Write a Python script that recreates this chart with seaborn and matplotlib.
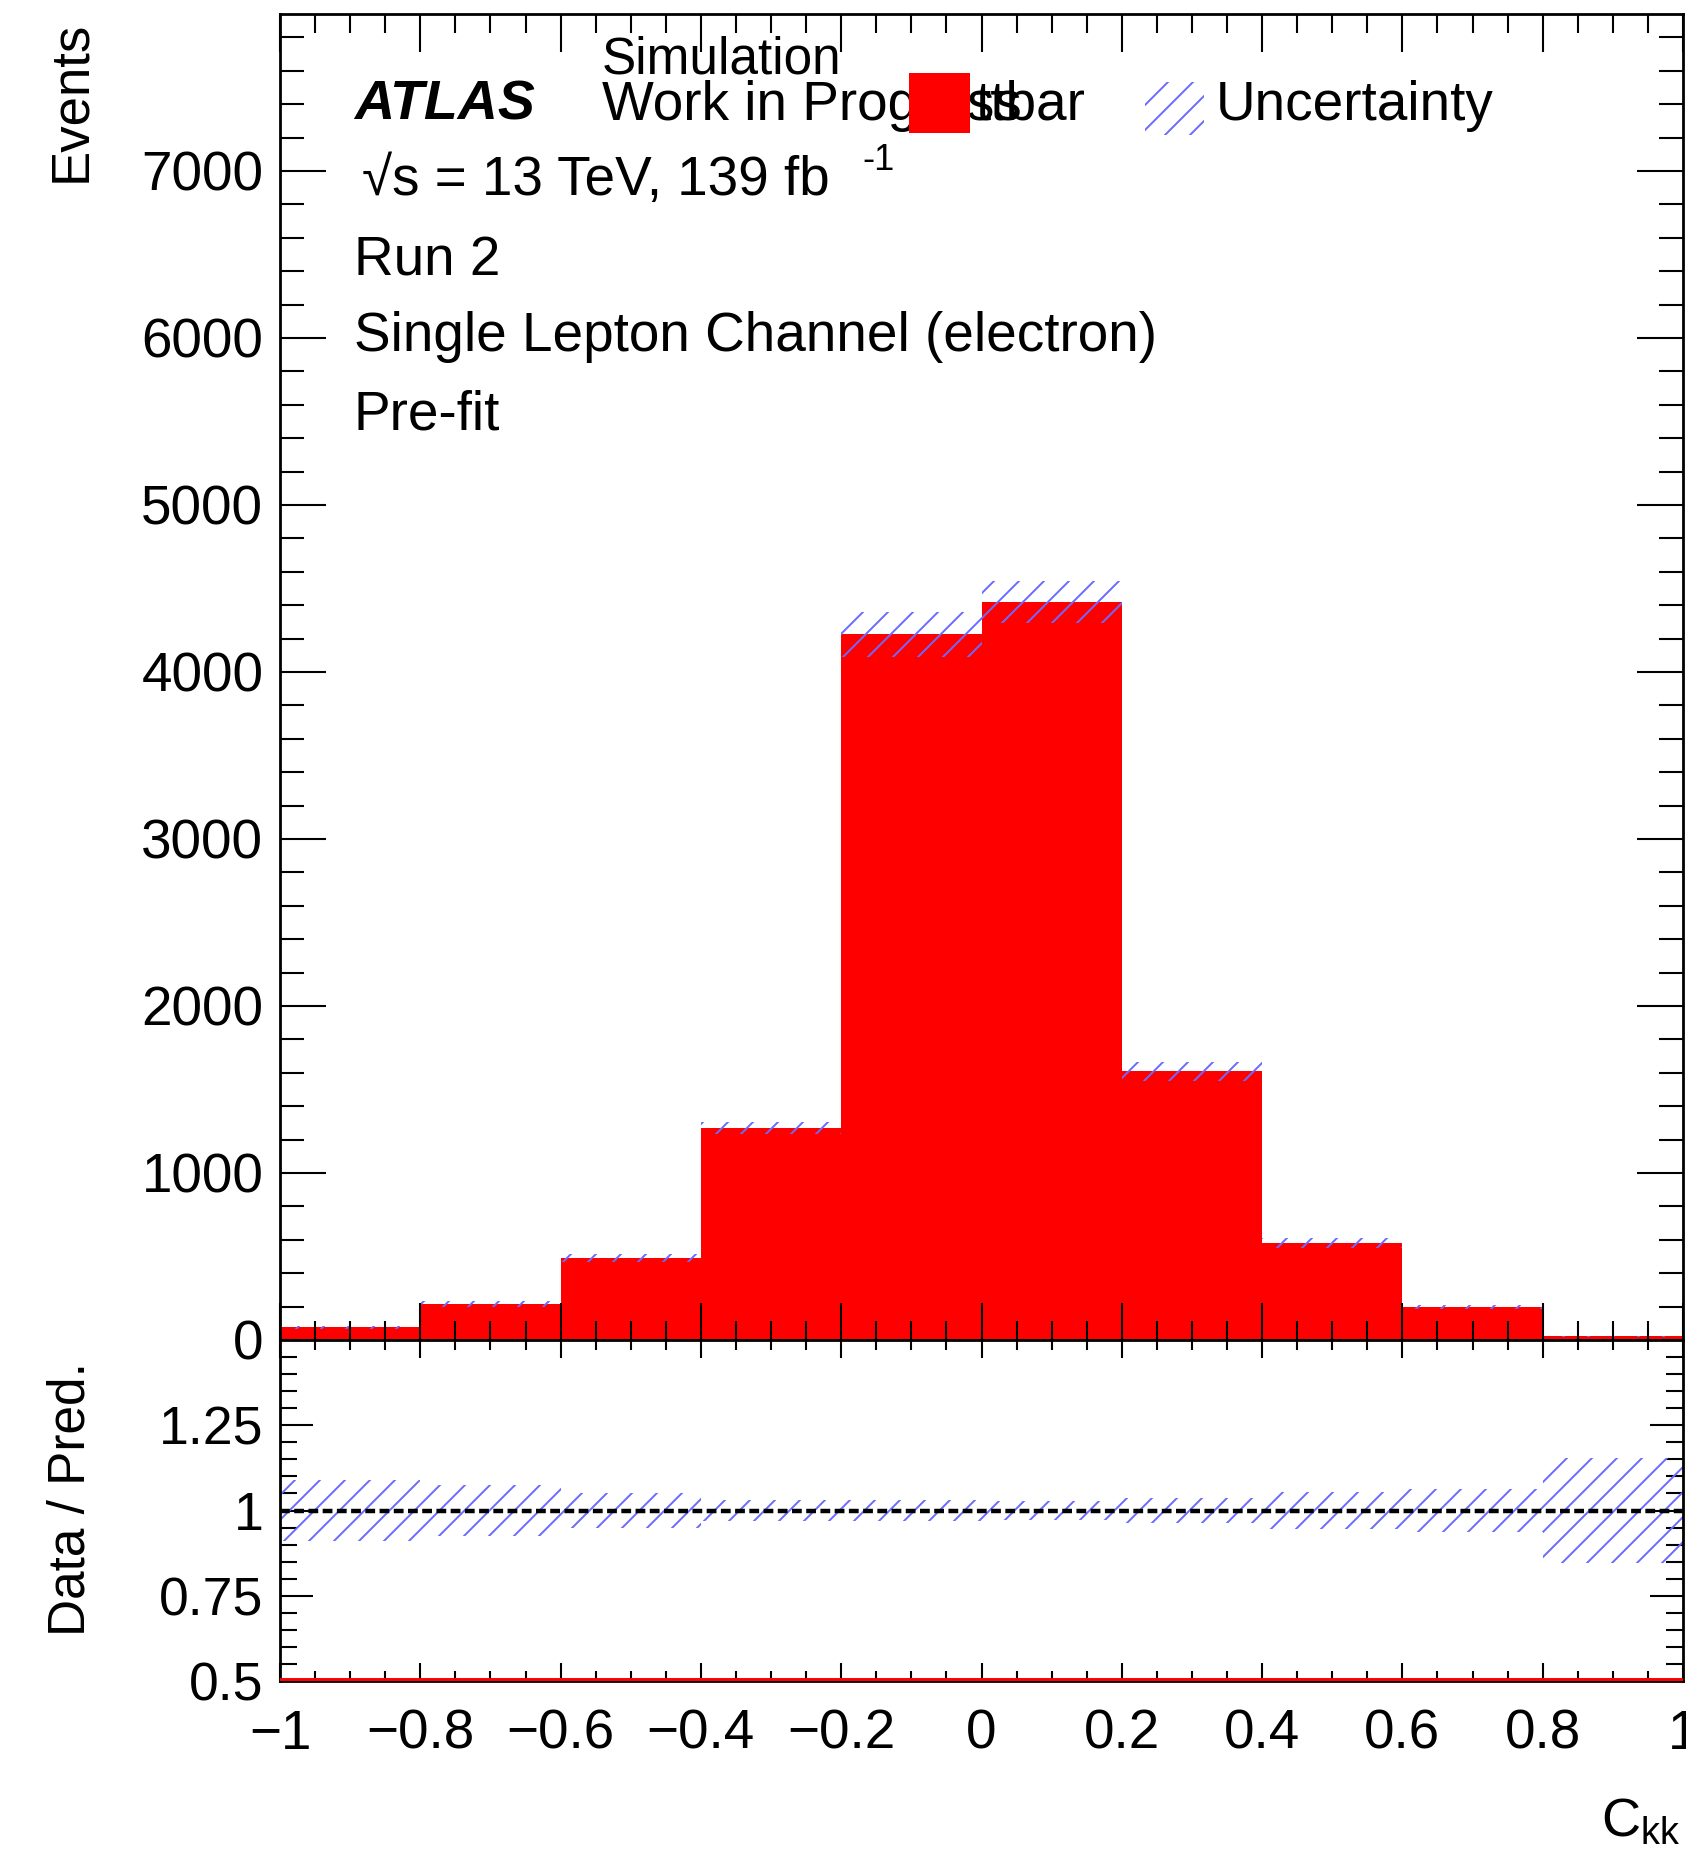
import matplotlib
matplotlib.use("Agg")
import matplotlib.pyplot as plt
from matplotlib.patches import Rectangle
from matplotlib.ticker import MultipleLocator
import numpy as np
import pandas as pd
import seaborn as sns

# ---- data ----
bin_edges = [-1.0, -0.8, -0.6, -0.4, -0.2, 0.0, 0.2, 0.4, 0.6, 0.8, 1.0]
ttbar_events = [75, 215, 490, 1270, 4225, 4420, 1608, 580, 195, 22]
rel_uncertainty = [0.09, 0.075, 0.052, 0.03, 0.032, 0.028, 0.037, 0.055, 0.062, 0.155]
main_yticks = [0, 1000, 2000, 3000, 4000, 5000, 6000, 7000]
ratio_yticks = [0.5, 0.75, 1.0, 1.25]
ratio_yticklabels = ["0.5", "0.75", "1", "1.25"]
xticks = [-1, -0.8, -0.6, -0.4, -0.2, 0, 0.2, 0.4, 0.6, 0.8, 1]
xticklabels = ["\u22121", "\u22120.8", "\u22120.6", "\u22120.4", "\u22120.2", "0", "0.2", "0.4", "0.6", "0.8", "1"]

DPI = 150
P = 100.0 / DPI  # sizes below are given as if at 100 dpi

sns.set_style("ticks")
FONT = ["Liberation Sans", "DejaVu Sans"]
plt.rcParams["font.family"] = FONT
plt.rcParams["text.color"] = "black"
plt.rcParams["axes.labelcolor"] = "black"
plt.rcParams["xtick.color"] = "black"
plt.rcParams["ytick.color"] = "black"
plt.rcParams["axes.edgecolor"] = "black"
plt.rcParams["mathtext.fontset"] = "custom"
plt.rcParams["mathtext.rm"] = "Liberation Sans"
plt.rcParams["mathtext.it"] = "Liberation Sans:italic"
plt.rcParams["hatch.linewidth"] = 1.4 * P
plt.rcParams["xtick.direction"] = "in"
plt.rcParams["ytick.direction"] = "in"
plt.rcParams["xtick.top"] = True
plt.rcParams["ytick.right"] = True

W, H = 1686, 1856
fig = plt.figure(figsize=(W / DPI, H / DPI), dpi=DPI)

def fx(x):
    return x / W

def fy(y):
    return 1 - y / H

left, right = 280, 1683
ax = fig.add_axes([fx(left), fy(1340), (right - left) / W, (1340 - 14) / H])
rax = fig.add_axes([fx(left), fy(1681), (right - left) / W, (1681 - 1340) / H])

edges = np.array(bin_edges)
centers = 0.5 * (edges[:-1] + edges[1:])
widths = np.diff(edges)
vals = np.array(ttbar_events, dtype=float)
rel = np.array(rel_uncertainty)

df = pd.DataFrame({"ckk": centers, "events": vals})

# main histogram
sns.histplot(data=df, x="ckk", weights="events", bins=list(bin_edges), color="#ff0000",
             alpha=1.0, linewidth=0, ax=ax, element="bars", legend=False)
hatch_col = "#6a6aff"
ax.bar(centers, 2 * vals * rel, bottom=vals * (1 - rel), width=widths,
       fill=False, hatch="//", edgecolor=hatch_col, linewidth=0, zorder=3)

ax.set_xlim(-1, 1)
ax.set_ylim(0, 7940)
ax.set_yticks(main_yticks)
ax.set_yticklabels([str(t) for t in main_yticks])
ax.yaxis.set_minor_locator(MultipleLocator(200))
ax.set_xticks(xticks)
ax.xaxis.set_minor_locator(MultipleLocator(0.05))
ax.tick_params(axis="x", labelbottom=False)
ax.tick_params(axis="x", which="major", length=27 * P, width=1.5 * P)
ax.tick_params(axis="x", which="minor", length=14 * P, width=1.5 * P)
ax.tick_params(axis="y", which="major", length=33 * P, width=1.5 * P, labelsize=39.5 * P, pad=12 * P)
ax.tick_params(axis="y", which="minor", length=17 * P, width=1.5 * P)
ax.set_xlabel("")
ax.set_ylabel("")
ax.xaxis.set_zorder(5)
ax.yaxis.set_zorder(5)
for s in ax.spines.values():
    s.set_linewidth(2 * P)
    s.set_color("black")
    s.set_zorder(6)

# ratio panel
ratio_ones = np.ones_like(vals)
rax.bar(centers, 2 * rel, bottom=ratio_ones - rel, width=widths,
        fill=False, hatch="//", edgecolor=hatch_col, linewidth=0, zorder=2)
rax.axhline(1.0, color="black", linestyle=(0, (2.2, 1.0)), linewidth=3.2 * P, zorder=4)
rax.axhline(0.5, color="#ff0000", linewidth=5 * P, zorder=3)
rax.set_xlim(-1, 1)
rax.set_ylim(0.5, 1.5)
rax.set_yticks(ratio_yticks)
rax.set_yticklabels(ratio_yticklabels)
rax.yaxis.set_minor_locator(MultipleLocator(0.05))
rax.set_xticks(xticks)
rax.set_xticklabels(xticklabels)
rax.xaxis.set_minor_locator(MultipleLocator(0.05))
rax.tick_params(axis="x", which="major", length=13 * P, width=1.5 * P, labelsize=39.5 * P, pad=20 * P)
rax.tick_params(axis="x", which="minor", length=7 * P, width=1.5 * P)
rax.tick_params(axis="y", which="major", length=24 * P, width=1.5 * P, labelsize=38.5 * P, pad=12 * P)
rax.tick_params(axis="y", which="minor", length=12 * P, width=1.5 * P)
for s in rax.spines.values():
    s.set_linewidth(2 * P)
    s.set_color("black")

# axis titles
fig.text(fx(71), fy(21), "Events", rotation=90, ha="center", va="top", fontsize=38 * P, family=FONT)
fig.text(fx(71), fy(1362), "Data / Pred.", rotation=90, ha="center", va="top", fontsize=37 * P, family=FONT)
fig.text(fx(1681), fy(1848), r"C$_{\mathrm{kk}}$", ha="right", va="bottom", fontsize=39 * P, family=FONT)

# labels
fs = 39.5 * P
fig.text(fx(354), fy(120), "ATLAS", fontsize=40 * P, fontweight="bold", fontstyle="italic",
         ha="left", va="baseline", family=FONT)
fig.text(fx(602), fy(120), "Work in Progress", fontsize=fs, ha="left", va="baseline", family=FONT)
fig.text(fx(602), fy(73), "Simulation", fontsize=37 * P, ha="left", va="baseline", family=FONT)
fig.text(fx(362), fy(195), "\u221as = 13 TeV, 139 fb", fontsize=fs, ha="left", va="baseline", family=FONT)
fig.text(fx(862), fy(170), "-1", fontsize=26 * P, ha="left", va="baseline", family=FONT)
fig.text(fx(354), fy(275), "Run 2", fontsize=fs, ha="left", va="baseline", family=FONT)
fig.text(fx(354), fy(351), "Single Lepton Channel (electron)", fontsize=fs, ha="left", va="baseline", family=FONT)
fig.text(fx(354), fy(430), "Pre-fit", fontsize=fs, ha="left", va="baseline", family=FONT)

# legend
fig.add_artist(Rectangle((fx(909), fy(133)), (970 - 909) / W, (133 - 73) / H,
                         transform=fig.transFigure, facecolor="#ff0000", edgecolor="none", zorder=6))
fig.text(fx(975), fy(120), "ttbar", fontsize=fs, ha="left", va="baseline", family=FONT, zorder=7)
fig.add_artist(Rectangle((fx(1145), fy(135)), (1204 - 1145) / W, (135 - 82) / H,
                         transform=fig.transFigure, fill=False, hatch="//", edgecolor=hatch_col,
                         linewidth=0, zorder=6))
fig.text(fx(1216), fy(120), "Uncertainty", fontsize=fs, ha="left", va="baseline", family=FONT)

fig.savefig("out.png", dpi=DPI)
